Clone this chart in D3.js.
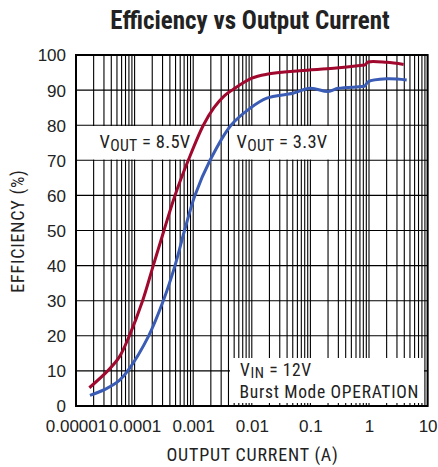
<!DOCTYPE html>
<html><head><meta charset="utf-8">
<script src="https://cdn.jsdelivr.net/npm/d3@7"></script>
<style>
html,body{margin:0;padding:0;background:#fff;}
svg{display:block;font-family:"Liberation Sans Narrow","Arial Narrow","Roboto Condensed",sans-serif;}
</style></head>
<body><svg id="c" width="438" height="467"></svg>
<script>
// ---- data ----
const current85 = [1.69e-5, 3.47e-5, 5.5e-5, 8.12e-5, 1.37e-4, 2.08e-4, 3.17e-4, 4.89e-4, 8.24e-4, 1.49e-3, 2.26e-3, 3.36e-3, 4.8e-3, 0.01, 0.018, 0.066, 0.25, 0.7, 0.85, 0.97, 2.0, 3.9];
const eff85     = [5.2, 10, 14, 20, 30, 40, 50, 60, 70, 80, 85, 88.3, 90.2, 93.4, 94.5, 95.5, 96.2, 97.0, 97.2, 98.0, 97.9, 97.3];
const current33 = [1.73e-5, 3.25e-5, 5.5e-5, 7.63e-5, 1.74e-4, 3.09e-4, 4.89e-4, 7.11e-4, 1.07e-3, 1.94e-3, 4.42e-3, 9.3e-3, 0.018, 0.05, 0.1, 0.2, 0.3, 0.75, 0.85, 0.97, 2.0, 4.4];
const eff33     = [3.05, 4.9, 7.3, 10, 20, 30, 40, 50, 60, 70, 80, 84.8, 87.7, 89.1, 90.5, 89.6, 90.5, 91.0, 91.2, 92.4, 93.2, 92.9];
const xTickValues = [1e-5, 1e-4, 1e-3, 1e-2, 1e-1, 1, 10];
const xTickLabels = ["0.00001", "0.0001", "0.001", "0.01", "0.1", "1", "10"];
const yTickValues = [0, 10, 20, 30, 40, 50, 60, 70, 80, 90, 100];

const svg = d3.select("#c");
const L = 76, R = 427.6, T = 55, B = 406;
const x = d3.scaleLog().domain([1e-5, 10]).range([L, R]);
const y = d3.scaleLinear().domain([0, 100]).range([B, T]);

// minor gridlines
const minor = [];
for (let e = -5; e < 1; e++) for (let m = 1; m < 10; m++) minor.push(m * Math.pow(10, e));
minor.push(10);
const grid = svg.append("g");
grid.selectAll("line.v").data(minor).join("line")
  .attr("x1", d => x(d)).attr("x2", d => x(d)).attr("y1", T).attr("y2", B)
  .attr("stroke", "#000").attr("stroke-width", 1.1);
grid.selectAll("line.h").data(yTickValues).join("line")
  .attr("x1", L).attr("x2", R).attr("y1", d => y(d)).attr("y2", d => y(d))
  .attr("stroke", "#000").attr("stroke-width", 1.1);

// label boxes (white backgrounds)
function box(x0, x1, y0, y1) {
  svg.append("rect").attr("x", x0).attr("y", y0).attr("width", x1 - x0).attr("height", y1 - y0).attr("fill", "#fff");
}
box(93, 209.8, y(80) + 0.8, y(70) - 0.8);
box(229.3, 338, y(80) + 0.8, y(70) - 0.8);
box(230, 424, 358, 403);

// curves
const line = d3.line().x(d => x(d[0])).y(d => y(d[1])).curve(d3.curveCatmullRom.alpha(0.5));
svg.append("path").datum(current85.map((c, i) => [c, eff85[i]]))
  .attr("d", line).attr("fill", "none").attr("stroke", "#A0082E").attr("stroke-width", 3)
  .attr("stroke-linejoin", "round");
svg.append("path").datum(current33.map((c, i) => [c, eff33[i]]))
  .attr("d", line).attr("fill", "none").attr("stroke", "#3A5CB4").attr("stroke-width", 3)
  .attr("stroke-linejoin", "round");

// frame
svg.append("rect").attr("x", L).attr("y", T).attr("width", R - L).attr("height", B - T)
  .attr("fill", "none").attr("stroke", "#000").attr("stroke-width", 2);

// axes labels
const xAxis = d3.axisBottom(x).tickValues(xTickValues).tickFormat((d, i) => xTickLabels[i]).tickSize(0).tickPadding(0);
const gx = svg.append("g").attr("transform", `translate(0,${B})`).call(xAxis);
gx.select(".domain").remove();
gx.selectAll("text").attr("font-size", 17).attr("fill", "#222").attr("dy", null).attr("y", 26)
  .style("font-family", "inherit");

const yAxis = d3.axisLeft(y).tickValues(yTickValues).tickSize(0).tickPadding(0);
const gy = svg.append("g").attr("transform", `translate(66,0)`).call(yAxis);
gy.select(".domain").remove();
gy.selectAll("text").attr("font-size", 17).attr("fill", "#222").attr("x", 0).attr("dy", "0.35em")
  .style("font-family", "inherit");

// titles
svg.append("text").attr("x", 250).attr("y", 29).attr("text-anchor", "middle")
  .attr("font-size", 25).attr("font-weight", "bold").attr("fill", "#222").text("Efficiency vs Output Current");
svg.append("text").attr("x", 252.5).attr("y", 460.5).attr("text-anchor", "middle")
  .attr("font-size", 18).attr("letter-spacing", 0.8).attr("fill", "#222").text("OUTPUT CURRENT (A)");
svg.append("text").attr("transform", "translate(24,231) rotate(-90)").attr("text-anchor", "middle")
  .attr("font-size", 18).attr("letter-spacing", 0.8).attr("fill", "#222").text("EFFICIENCY (%)");

// annotations
function vlabel(xp, yp, sub, rest, fs, ls, sh) {
  const t = svg.append("text").attr("x", xp).attr("y", yp).attr("font-size", fs)
    .attr("letter-spacing", ls).attr("fill", "#222");
  t.append("tspan").text("V");
  t.append("tspan").attr("font-size", fs * 0.85).attr("dy", sh).text(sub);
  t.append("tspan").attr("dy", -sh).text(rest);
}
vlabel(99.5, 148, "OUT", " = 8.5V", 18.5, 0.3, 3);
vlabel(236.5, 148, "OUT", " = 3.3V", 18.5, 0.3, 3);
vlabel(240, 375.5, "IN", " = 12V", 17.5, 0.6, 2.5);
svg.append("text").attr("x", 239.5).attr("y", 397.5).attr("font-size", 17.5).attr("letter-spacing", 0.7)
  .attr("fill", "#222").text("Burst Mode OPERATION");
</script></body></html>
